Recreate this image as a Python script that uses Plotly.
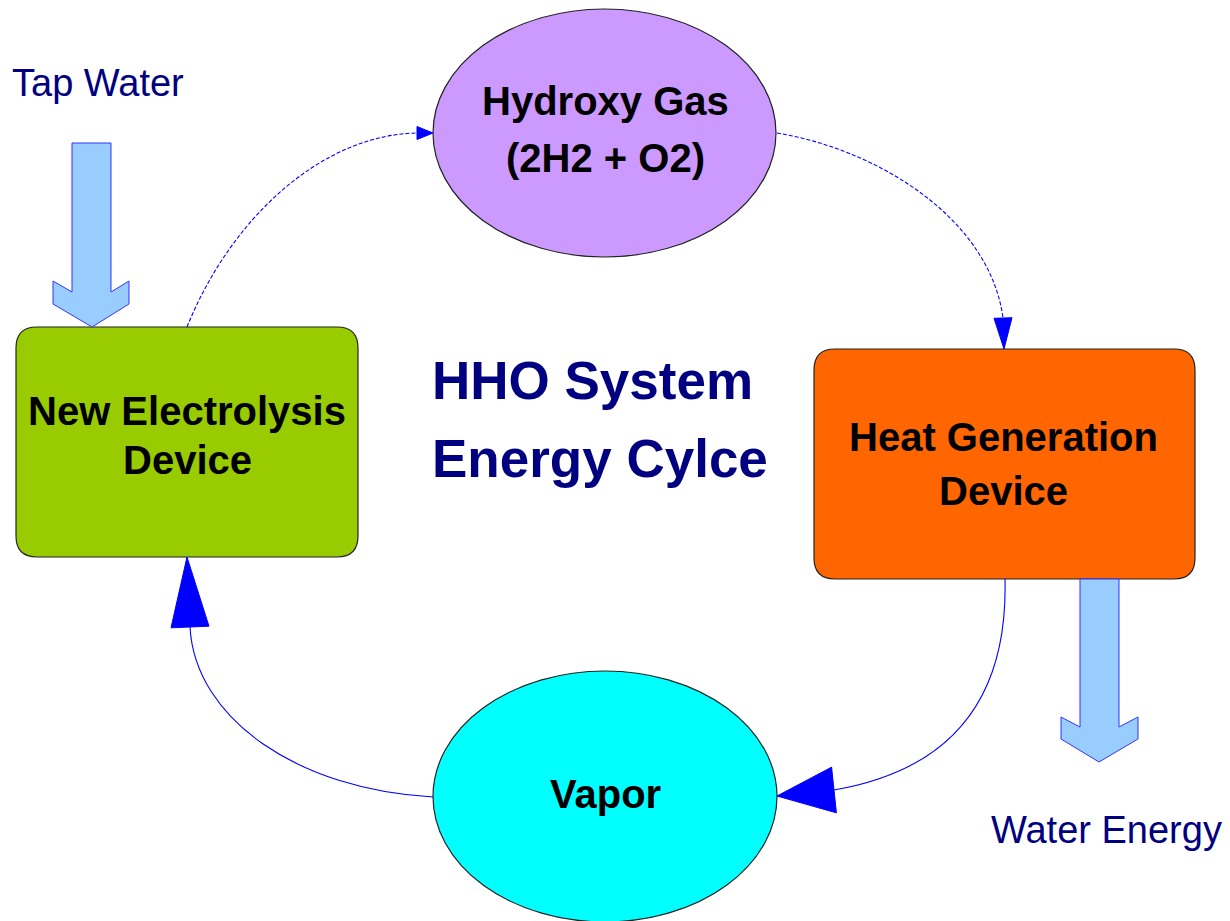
import plotly.graph_objects as go

# ---------------- data (text content) ----------------
node_names = ["electrolysis", "hydroxy", "heat", "vapor"]
node_label_lines = [
    ["New Electrolysis", "Device"],
    ["Hydroxy Gas", "(2H2 + O2)"],
    ["Heat Generation", "Device"],
    ["Vapor"],
]
title_lines = ["HHO System", "Energy Cylce"]
flow_labels = ["Tap Water", "Water Energy"]
cycle_edges = [("electrolysis", "hydroxy"), ("hydroxy", "heat"),
               ("heat", "vapor"), ("vapor", "electrolysis")]

# ---------------- layout / geometry (pixel space) ----------------
W, H = 1230, 921
node_shape = {"electrolysis": "rect", "hydroxy": "ellipse", "heat": "rect", "vapor": "ellipse"}
node_box = {  # x0, y0, x1, y1
    "electrolysis": (16, 327, 358, 557),
    "hydroxy": (433, 9, 776, 257),
    "heat": (814, 349, 1195, 579),
    "vapor": (433, 671, 777, 922),
}
node_fill = {"electrolysis": "#99CC00", "hydroxy": "#CC99FF",
             "heat": "#FF6600", "vapor": "#00FFFF"}
node_line_y = {  # cap-centre of each text line
    "electrolysis": [411, 460],
    "hydroxy": [101, 158],
    "heat": [437, 491],
    "vapor": [794],
}
node_text_x = {"electrolysis": 187, "hydroxy": 605, "heat": 1003, "vapor": 605}

# connectors: cubic bezier P0,P1,P2,P3 ; arrow tip ; head half width ; dashed
edge_geom = {
    ("electrolysis", "hydroxy"): dict(p=[(187, 327), (230, 220), (320, 135), (417, 133)],
                                      tip=(433, 133), hw=6.5, dash=True),
    ("hydroxy", "heat"): dict(p=[(777, 133), (880, 150), (990, 220), (1003, 318)],
                              tip=(1004, 349), hw=9, dash=True),
    ("heat", "vapor"): dict(p=[(1005, 579), (1008, 700), (950, 770), (834, 790)],
                            tip=(777, 796), hw=23, dash=False),
    ("vapor", "electrolysis"): dict(p=[(433, 797), (300, 790), (195, 720), (190, 627)],
                                    tip=(187, 557), hw=19, dash=False),
}

# block arrows: shaft x0,x1 ; top y ; notch y ; wing x0,x1 ; wing top/bottom ; tip
block_arrows = [
    dict(sx=(72, 111), top=143, notch=292, wx=(53, 129), wy=(281, 304), tip=(92, 327)),
    dict(sx=(1080, 1119), top=579, notch=727, wx=(1061, 1138), wy=(717, 739), tip=(1099, 762)),
]
flow_label_pos = [(10, 83), (989, 830)]

FONT = "Liberation Sans, Arial, Helvetica, sans-serif"
NAVY = "#000080"
BLUE = "#0000FF"

shapes = []
annotations = []


def rounded_rect_path(x0, y0, x1, y1, r):
    return (f"M {x0+r},{y0} L {x1-r},{y0} Q {x1},{y0} {x1},{y0+r} "
            f"L {x1},{y1-r} Q {x1},{y1} {x1-r},{y1} L {x0+r},{y1} "
            f"Q {x0},{y1} {x0},{y1-r} L {x0},{y0+r} Q {x0},{y0} {x0+r},{y0} Z")


# nodes
for name, lines in zip(node_names, node_label_lines):
    x0, y0, x1, y1 = node_box[name]
    if node_shape[name] == "rect":
        shapes.append(dict(type="path", path=rounded_rect_path(x0, y0, x1, y1, 21),
                           xref="x", yref="y", fillcolor=node_fill[name],
                           line=dict(color="#222222", width=1.2), layer="above"))
    else:
        shapes.append(dict(type="circle", x0=x0, y0=y0, x1=x1, y1=y1, xref="x", yref="y",
                           fillcolor=node_fill[name],
                           line=dict(color="#222222", width=1.2), layer="above"))
    for line, ly in zip(lines, node_line_y[name]):
        annotations.append(dict(x=node_text_x[name], y=ly, xref="x", yref="y",
                                text=f"<b>{line}</b>", showarrow=False,
                                xanchor="center", yanchor="middle",
                                font=dict(family=FONT, size=40, color="black")))

# cycle connectors
for edge in cycle_edges:
    g = edge_geom[edge]
    (a, b), (c, d), (e, f), (gx, gy) = g["p"]
    shapes.append(dict(type="path", path=f"M {a},{b} C {c},{d} {e},{f} {gx},{gy}",
                       xref="x", yref="y",
                       line=dict(color=BLUE, width=1.1, dash="4px,2px" if g["dash"] else "solid"),
                       layer="above"))
    tx, ty = g["tip"]
    dx, dy = tx - gx, ty - gy
    L = (dx * dx + dy * dy) ** 0.5
    nx, ny = -dy / L, dx / L
    hw = g["hw"]
    shapes.append(dict(type="path",
                       path=(f"M {tx},{ty} L {gx + nx*hw},{gy + ny*hw} "
                             f"L {gx - nx*hw},{gy - ny*hw} Z"),
                       xref="x", yref="y", fillcolor=BLUE,
                       line=dict(color=BLUE, width=1), layer="above"))

# block arrows
for ba in block_arrows:
    sx0, sx1 = ba["sx"]
    wx0, wx1 = ba["wx"]
    wy0, wy1 = ba["wy"]
    tx, ty = ba["tip"]
    p = (f"M {sx0},{ba['top']} L {sx1},{ba['top']} L {sx1},{ba['notch']} "
         f"L {wx1},{wy0} L {wx1},{wy1} L {tx},{ty} L {wx0},{wy1} L {wx0},{wy0} "
         f"L {sx0},{ba['notch']} Z")
    shapes.append(dict(type="path", path=p, xref="x", yref="y", fillcolor="#99CCFF",
                       line=dict(color="#3333FF", width=1), layer="above"))

for label, (lx, ly) in zip(flow_labels, flow_label_pos):
    annotations.append(dict(x=lx, y=ly, xref="x", yref="y", text=label, showarrow=False,
                            xanchor="left", yanchor="middle",
                            font=dict(family=FONT, size=38, color=NAVY)))

# title
for line, ty in zip(title_lines, [380, 458]):
    annotations.append(dict(x=430, y=ty, xref="x", yref="y", text=f"<b>{line}</b>",
                            showarrow=False, xanchor="left", yanchor="middle",
                            font=dict(family=FONT, size=53, color=NAVY)))

fig = go.Figure()
fig.update_layout(
    width=W, height=H,
    margin=dict(l=0, r=0, t=0, b=0),
    paper_bgcolor="white", plot_bgcolor="white",
    xaxis=dict(range=[0, W], visible=False, fixedrange=True),
    yaxis=dict(range=[H, 0], visible=False, fixedrange=True),
    shapes=shapes, annotations=annotations, showlegend=False,
)
fig.write_html("out.html", config={"displayModeBar": False},
               post_script="document.body.style.margin='0px';document.body.style.overflow='hidden';")
